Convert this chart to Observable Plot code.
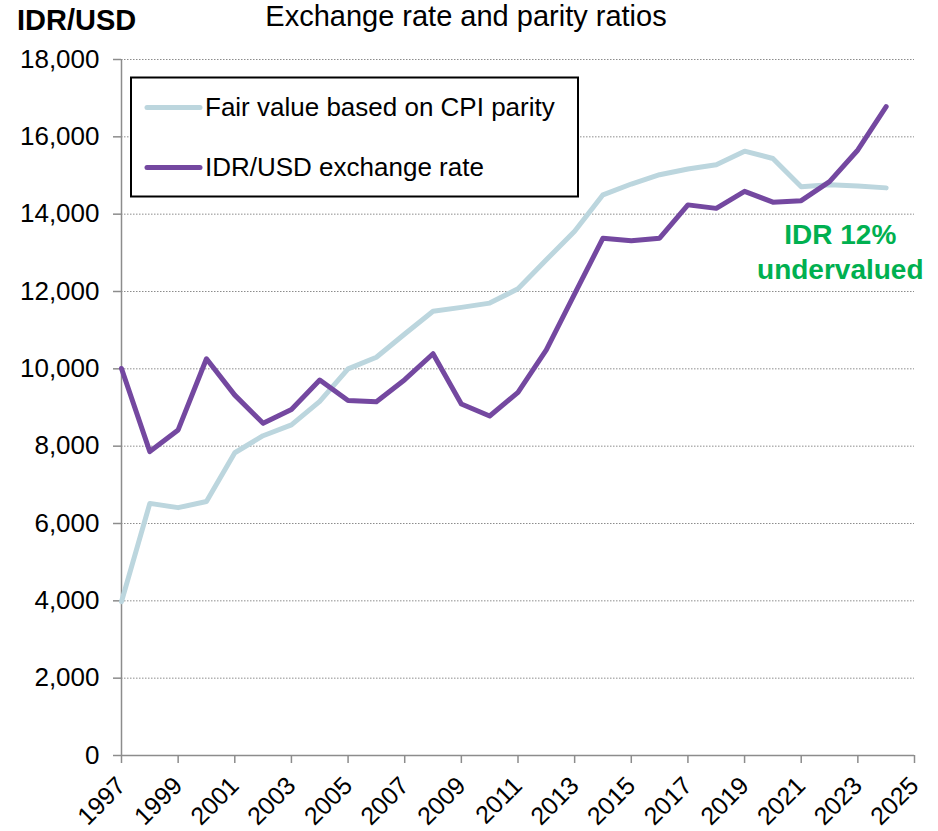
<!DOCTYPE html>
<html>
<head>
<meta charset="utf-8">
<script src="https://cdn.jsdelivr.net/npm/d3@7"></script>
<script src="https://cdn.jsdelivr.net/npm/@observablehq/plot@0.6"></script>
<style>
  html, body { margin: 0; padding: 0; background: white; }
  svg { display: block; }
</style>
</head>
<body>
<div id="chart"></div>
<script>
const years = d3.range(1997, 2025);
const fairValue = [3980, 6520, 6410, 6570, 7830, 8270, 8550, 9160, 10000, 10300, 10900, 11490, 11590, 11700, 12070, 12820, 13560, 14500, 14780, 15020, 15170, 15280, 15630, 15440, 14710, 14760, 14730, 14680];
const exchangeRate = [10010, 7860, 8420, 10260, 9320, 8590, 8950, 9710, 9180, 9150, 9720, 10390, 9090, 8780, 9390, 10490, 11940, 13380, 13310, 13380, 14240, 14150, 14590, 14310, 14350, 14840, 15660, 16780];
const seriesNames = ["Fair value based on CPI parity", "IDR/USD exchange rate"];
const seriesColors = ["#bcd6de", "#7448a0"];
const xTicks = d3.range(1997, 2026, 2);
const yTicks = d3.range(0, 18001, 2000);
const annotationLines = ["IDR 12%", "undervalued"];
const annotationYear = 2022.38;
const annotationValues = [13232, 12326];

const fairData = years.map((yr, i) => ({year: yr, value: fairValue[i]}));
const rateData = years.map((yr, i) => ({year: yr, value: exchangeRate[i]}));
const annData = annotationLines.map((t, i) => ({year: annotationYear, value: annotationValues[i], text: t}));

const grey = "#8c8c8c";
const font = "'Liberation Sans', Arial, sans-serif";

const svg = Plot.plot({
  width: 938,
  height: 831,
  marginLeft: 121,
  marginRight: 24,
  marginTop: 59,
  marginBottom: 76,
  style: {fontFamily: font, background: "white", overflow: "visible", color: "black"},
  x: {domain: [1997, 2025]},
  y: {domain: [0, 18000]},
  marks: [
    Plot.gridY(yTicks.filter(d => d > 0), {stroke: grey, strokeOpacity: 1, strokeWidth: 1, strokeDasharray: "1.5,1.5"}),
    Plot.ruleY([0], {stroke: grey, strokeWidth: 1.5}),
    Plot.ruleX([1997], {stroke: grey, strokeWidth: 1.5}),
    Plot.axisY({ticks: yTicks, tickFormat: d3.format(","), tickSize: 8, tickPadding: 14, fontSize: 26, stroke: grey, strokeWidth: 1.5, fill: "black", label: null}),
    Plot.axisX({ticks: xTicks, tickFormat: d => String(d), tickRotate: -45, tickSize: 8, tickPadding: 18, fontSize: 25, stroke: grey, strokeWidth: 1.5, fill: "black", label: null}),
    Plot.line(fairData, {x: "year", y: "value", stroke: seriesColors[0], strokeWidth: 5}),
    Plot.line(rateData, {x: "year", y: "value", stroke: seriesColors[1], strokeWidth: 5}),
    Plot.text(annData, {x: "year", y: "value", text: "text", textAnchor: "middle", lineAnchor: "bottom", fontSize: 28, fontWeight: "bold", fill: "#00b050"})
  ]
});

const s = d3.select(svg);

// Title and unit label
s.append("text").attr("x", 466).attr("y", 26).attr("text-anchor", "middle")
  .attr("font-family", font).attr("font-size", 29).attr("fill", "black")
  .text("Exchange rate and parity ratios");
s.append("text").attr("x", 17).attr("y", 30).attr("text-anchor", "start")
  .attr("font-family", font).attr("font-size", 29).attr("font-weight", "bold").attr("fill", "black")
  .text("IDR/USD");

// Legend
const lg = s.append("g").attr("text-anchor", "start");
lg.append("rect").attr("x", 131).attr("y", 77.5).attr("width", 447).attr("height", 119)
  .attr("fill", "white").attr("stroke", "black").attr("stroke-width", 2);
const rowY = [107.5, 167.5];
seriesNames.forEach((name, i) => {
  lg.append("line").attr("x1", 147).attr("x2", 200).attr("y1", rowY[i]).attr("y2", rowY[i])
    .attr("stroke", seriesColors[i]).attr("stroke-width", 5).attr("stroke-linecap", "round");
  lg.append("text").attr("x", 205).attr("y", rowY[i] + 8).attr("text-anchor", "start").attr("font-family", font)
    .attr("font-size", 26).attr("fill", "black").text(name);
});

document.getElementById("chart").appendChild(svg);
</script>
</body>
</html>
